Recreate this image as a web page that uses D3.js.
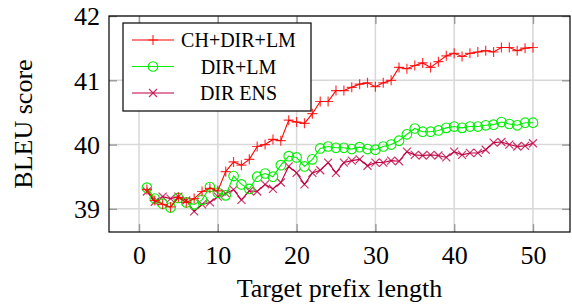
<!DOCTYPE html>
<html>
<head>
<meta charset="utf-8">
<script src="https://cdn.jsdelivr.net/npm/d3@7"></script>
<style>
  body { margin: 0; background: #fff; }
  svg text { font-family: "Liberation Serif", "Times New Roman", serif; fill: #000; }
</style>
</head>
<body>
<script>
// prefix lengths 1..50
var prefixLen = d3.range(1, 51);

var chDirLm = [39.3, 39.13, 39.07, 39.03, 39.18, 39.1, 39.16, 39.27, 39.32, 39.28,
    39.58, 39.73, 39.68, 39.77, 39.97, 40.0, 40.08, 40.06, 40.38, 40.35,
    40.33, 40.48, 40.67, 40.67, 40.84, 40.84, 40.89, 40.94, 40.96, 40.9,
    40.96, 41.0, 41.2, 41.18, 41.23, 41.27, 41.2, 41.29, 41.38, 41.42,
    41.37, 41.42, 41.44, 41.46, 41.44, 41.51, 41.51, 41.46, 41.5, 41.51];

var dirLm = [39.33, 39.16, 39.08, 39.02, 39.17, 39.1, 39.07, 39.14, 39.34, 39.25,
    39.21, 39.51, 39.38, 39.31, 39.5, 39.55, 39.5, 39.68, 39.82, 39.8,
    39.66, 39.77, 39.94, 39.97, 39.95, 39.95, 39.93, 39.96, 39.93, 39.92,
    39.97, 40.0, 40.06, 40.16, 40.25, 40.2, 40.2, 40.22, 40.26, 40.28,
    40.26, 40.28, 40.28, 40.3, 40.31, 40.35, 40.32, 40.3, 40.34, 40.34];

var dirEns = [39.27, 39.11, 39.19, 39.16, 39.19, 39.13, 38.96, 39.07, 39.1, 39.19,
    39.24, 39.3, 39.14, 39.28, 39.27, 39.38, 39.31, 39.41, 39.66, 39.56,
    39.38, 39.56, 39.6, 39.72, 39.56, 39.72, 39.75, 39.77, 39.67, 39.72,
    39.72, 39.75, 39.74, 39.89, 39.84, 39.83, 39.84, 39.83, 39.8, 39.89,
    39.84, 39.87, 39.87, 39.92, 40.03, 40.04, 40.0, 39.97, 39.98, 40.02];

var seriesNames = ["CH+DIR+LM", "DIR+LM", "DIR ENS"];
var xTicks = [0, 10, 20, 30, 40, 50];
var yTicks = [39, 40, 41, 42];

window.onload = function() {
    var w = 572, h = 304;
    var left = 109, right = 570, top = 16, bottom = 232;
    var serif = '"Liberation Serif", "Times New Roman", serif';

    var svg = d3.select("body").append("svg")
        .attr("width", w)
        .attr("height", h);

    var x = d3.scaleLinear().domain([-3.81, 54.7]).range([left, right]);
    var y = d3.scaleLinear().domain([38.64, 42]).range([bottom, top]);

    // grid
    svg.append("g").selectAll("line.gx").data(xTicks).enter().append("line")
        .attr("x1", function(d) { return x(d); }).attr("x2", function(d) { return x(d); })
        .attr("y1", top).attr("y2", bottom)
        .attr("stroke", "#d8d8d8").attr("stroke-width", 1.5);
    svg.append("g").selectAll("line.gy").data(yTicks).enter().append("line")
        .attr("y1", function(d) { return y(d); }).attr("y2", function(d) { return y(d); })
        .attr("x1", left).attr("x2", right)
        .attr("stroke", "#d8d8d8").attr("stroke-width", 1.5);

    // axes (ticks pointing inward, mirrored on top/right)
    var tk = 8;
    var fmt = d3.format("d");
    var xAxis = d3.axisBottom(x).tickValues(xTicks).tickFormat(fmt).tickSize(-tk).tickPadding(14);
    var gx = svg.append("g").attr("transform", "translate(0," + bottom + ")").call(xAxis)
        .attr("font-family", serif).attr("font-size", 26);
    gx.select(".domain").remove();
    gx.selectAll(".tick line").attr("stroke", "#999").attr("stroke-width", 1.4);
    gx.selectAll("text").style("font-family", serif).style("font-size", "26px").attr("fill", "#000")
        .attr("y", 14).attr("dy", "0.71em");

    var gxt = svg.append("g").attr("transform", "translate(0," + top + ")")
        .call(d3.axisTop(x).tickValues(xTicks).tickSize(-tk).tickFormat(""));
    gxt.select(".domain").remove();
    gxt.selectAll(".tick line").attr("stroke", "#999").attr("stroke-width", 1.4);

    var yAxis = d3.axisLeft(y).tickValues(yTicks).tickFormat(fmt).tickSize(-tk).tickPadding(15);
    var gy = svg.append("g").attr("transform", "translate(" + left + ",0)").call(yAxis)
        .attr("font-family", serif).attr("font-size", 26);
    gy.select(".domain").remove();
    gy.selectAll(".tick line").attr("stroke", "#999").attr("stroke-width", 1.4);
    gy.selectAll("text").style("font-family", serif).style("font-size", "26px")
        .attr("fill", "#000").attr("x", -9).attr("dy", "0.34em");

    var gyr = svg.append("g").attr("transform", "translate(" + right + ",0)")
        .call(d3.axisRight(y).tickValues(yTicks).tickSize(-tk).tickFormat(""));
    gyr.select(".domain").remove();
    gyr.selectAll(".tick line").attr("stroke", "#999").attr("stroke-width", 1.4);

    // frame
    svg.append("rect")
        .attr("x", left).attr("y", top)
        .attr("width", right - left).attr("height", bottom - top)
        .attr("fill", "none").attr("stroke", "#000").attr("stroke-width", 1.2);

    // axis titles
    svg.append("text")
        .attr("x", (left + right) / 2).attr("y", 297)
        .attr("text-anchor", "middle")
        .style("font-size", "26px")
        .text("Target prefix length");
    svg.append("text")
        .attr("transform", "translate(32," + (top + bottom) / 2 + ") rotate(-90)")
        .attr("text-anchor", "middle")
        .style("font-size", "26px")
        .text("BLEU score");

    // marker shapes
    var markPlus = function(s) { return "M" + (-s) + ",0H" + s + "M0," + (-s) + "V" + s; };
    var markCross = function(s) { return "M" + (-s) + "," + (-s) + "L" + s + "," + s + "M" + (-s) + "," + s + "L" + s + "," + (-s); };

    var series = [
        { name: seriesNames[0], values: chDirLm, color: "#ff0000", mark: "plus" },
        { name: seriesNames[1], values: dirLm, color: "#00f000", mark: "circle" },
        { name: seriesNames[2], values: dirEns, color: "#bf0040", mark: "cross" }
    ];

    var line = d3.line()
        .x(function(d, i) { return x(prefixLen[i]); })
        .y(function(d) { return y(d); });

    function drawMarks(g, data, s, px, py) {
        var sel = g.selectAll(".m").data(data).enter();
        if (s.mark === "circle") {
            sel.append("circle")
                .attr("cx", px).attr("cy", py).attr("r", 4.8)
                .attr("fill", "none").attr("stroke", s.color).attr("stroke-width", 1.1);
        } else {
            sel.append("path")
                .attr("transform", function(d, i) { return "translate(" + px(d, i) + "," + py(d, i) + ")"; })
                .attr("d", s.mark === "plus" ? markPlus(5) : markCross(4))
                .attr("fill", "none").attr("stroke", s.color)
                .attr("stroke-opacity", 0.8).attr("stroke-width", 1.2);
        }
    }

    // draw in reverse so red sits on top
    series.slice().reverse().forEach(function(s) {
        var g = svg.append("g");
        g.append("path")
            .datum(s.values)
            .attr("d", line)
            .attr("fill", "none")
            .attr("stroke", s.color)
            .attr("stroke-width", 1.1);
        drawMarks(g, s.values, s,
            function(d, i) { return x(prefixLen[i]); },
            function(d) { return y(d); });
    });

    // legend
    var lg = svg.append("g");
    lg.append("rect")
        .attr("x", 123).attr("y", 23).attr("width", 188).attr("height", 88)
        .attr("fill", "#fff").attr("stroke", "#000").attr("stroke-width", 1.2);
    series.forEach(function(s, i) {
        var ly = 40 + i * 26.5;
        var row = lg.append("g");
        row.append("line")
            .attr("x1", 132).attr("x2", 174).attr("y1", ly).attr("y2", ly)
            .attr("stroke", s.color).attr("stroke-width", 1.1);
        drawMarks(row, [0], s, function() { return 153; }, function() { return ly; });
        row.append("text")
            .attr("x", 238.5).attr("y", ly)
            .attr("dy", "0.35em")
            .attr("text-anchor", "middle")
            .style("font-size", "20px")
            .text(s.name);
    });
};
</script>
</body>
</html>
